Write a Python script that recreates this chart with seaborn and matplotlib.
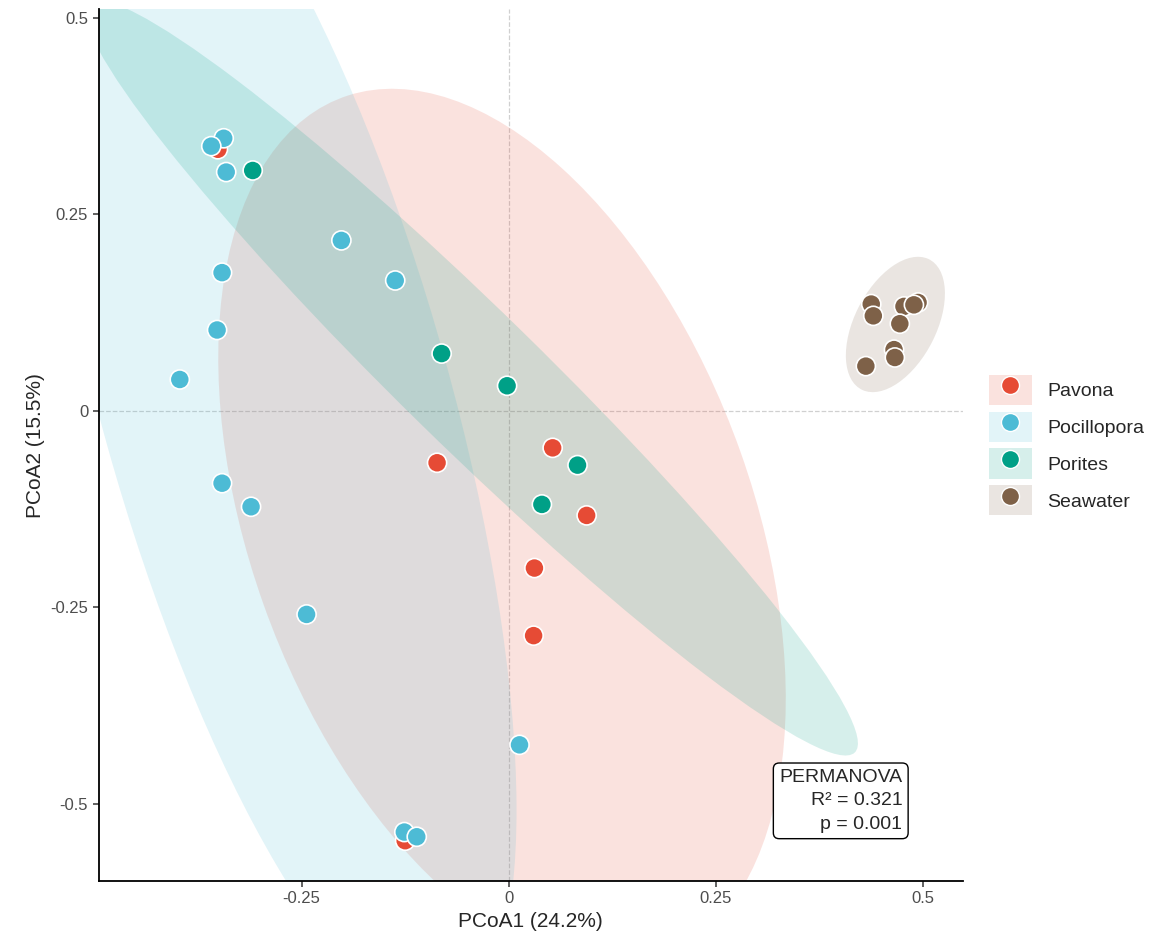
import numpy as np
import pandas as pd
import matplotlib.pyplot as plt
import seaborn as sns
from matplotlib.patches import Ellipse, Patch
from matplotlib.lines import Line2D

groups = ["Pavona", "Pocillopora", "Porites", "Seawater"]
colors = ["#E64B35", "#4DBBD5", "#00A087", "#7E6148"]

pavona_x = [-0.351, -0.0865, 0.053, 0.094, 0.031, 0.030, -0.125]
pavona_y = [0.333, -0.066, -0.047, -0.133, -0.200, -0.286, -0.547]
pocillopora_x = [-0.344, -0.359, -0.341, -0.202, -0.137, -0.346, -0.352, -0.397,
                 -0.346, -0.311, -0.244, 0.013, -0.126, -0.111]
pocillopora_y = [0.347, 0.337, 0.304, 0.217, 0.166, 0.176, 0.103, 0.040,
                 -0.092, -0.122, -0.259, -0.425, -0.536, -0.542]
porites_x = [-0.309, -0.081, -0.002, 0.083, 0.040]
porites_y = [0.306, 0.073, 0.032, -0.069, -0.119]
seawater_x = [0.4375, 0.440, 0.477, 0.494, 0.489, 0.472, 0.465, 0.466, 0.431]
seawater_y = [0.136, 0.121, 0.133, 0.138, 0.135, 0.111, 0.078, 0.068, 0.057]

xs = [pavona_x, pocillopora_x, porites_x, seawater_x]
ys = [pavona_y, pocillopora_y, porites_y, seawater_y]
df = pd.concat([pd.DataFrame({"PCoA1": x, "PCoA2": y, "Group": g})
                for g, x, y in zip(groups, xs, ys)], ignore_index=True)


def cov_trob(d, nu=5, iters=100):
    # robust multivariate t covariance (like MASS::cov.trob)
    n, p = d.shape
    w = np.ones(n)
    for _ in range(iters):
        m = (w[:, None] * d).sum(0) / w.sum()
        xc = d - m
        cov = (w[:, None, None] * np.einsum("ij,ik->ijk", xc, xc)).sum(0) / n
        q = np.einsum("ij,jk,ik->i", xc, np.linalg.inv(cov), xc)
        w_new = (nu + p) / (nu + q)
        if np.allclose(w, w_new, atol=1e-8):
            break
        w = w_new
    return m, cov


sns.set_theme(style="ticks")
plt.rcParams["font.family"] = ["Liberation Sans", "DejaVu Sans"]
fig, ax = plt.subplots(figsize=(11.6, 9.42), dpi=100)

for g, c in zip(groups, colors):
    d = df[df.Group == g][["PCoA1", "PCoA2"]].values
    n = len(d)
    m, cov = cov_trob(d)
    vals, vecs = np.linalg.eigh(cov)
    d2 = n - 1
    fq = d2 / 2 * (0.05 ** (-2 / d2) - 1)
    r = np.sqrt(2 * fq)
    ang = np.degrees(np.arctan2(vecs[1, 1], vecs[0, 1]))
    ax.add_patch(Ellipse(m, 2 * r * np.sqrt(vals[1]), 2 * r * np.sqrt(vals[0]),
                         angle=ang, facecolor=c, alpha=0.16, edgecolor="none", zorder=1))

ax.axhline(0, color="#d0d0d0", ls="--", lw=0.9, zorder=0)
ax.axvline(0, color="#d0d0d0", ls="--", lw=0.9, zorder=0)

sns.scatterplot(data=df, x="PCoA1", y="PCoA2", hue="Group", palette=colors,
                s=190, edgecolor="white", linewidth=1.2, ax=ax, legend=False, zorder=3)

ax.set_xlim(-0.495, 0.548)
ax.set_ylim(-0.598, 0.511)
ax.set_xticks([-0.25, 0, 0.25, 0.5])
ax.set_xticklabels(["-0.25", "0", "0.25", "0.5"])
ax.set_yticks([-0.5, -0.25, 0, 0.25, 0.5])
ax.set_yticklabels(["-0.5", "-0.25", "0", "0.25", "0.5"])
ax.tick_params(labelsize=12, colors="#4d4d4d", length=4)
ax.set_xlabel("PCoA1 (24.2%)", fontsize=15)
ax.set_ylabel("PCoA2 (15.5%)", fontsize=15)
sns.despine(ax=ax)
for s in ["left", "bottom"]:
    ax.spines[s].set_linewidth(1.3)
    ax.spines[s].set_color("black")

ax.text(0.93, 0.055, "PERMANOVA\nR² = 0.321\np = 0.001", transform=ax.transAxes,
        ha="right", va="bottom", fontsize=14, multialignment="right", linespacing=1.5,
        bbox=dict(boxstyle="round,pad=0.3", fc="white", ec="black", lw=1))

handles = [(Patch(facecolor=c, alpha=0.16, edgecolor="none"),
            Line2D([], [], marker="o", color="none", markerfacecolor=c,
                   markeredgecolor="white", markersize=13))
           for c in colors]
ax.legend(handles, groups, loc="center left", bbox_to_anchor=(1.01, 0.5), frameon=False,
          fontsize=14, handlelength=2.2, handleheight=2.0, labelspacing=0.35)

plt.subplots_adjust(left=0.085, right=0.83, bottom=0.065, top=0.99)
plt.savefig("out.png")
